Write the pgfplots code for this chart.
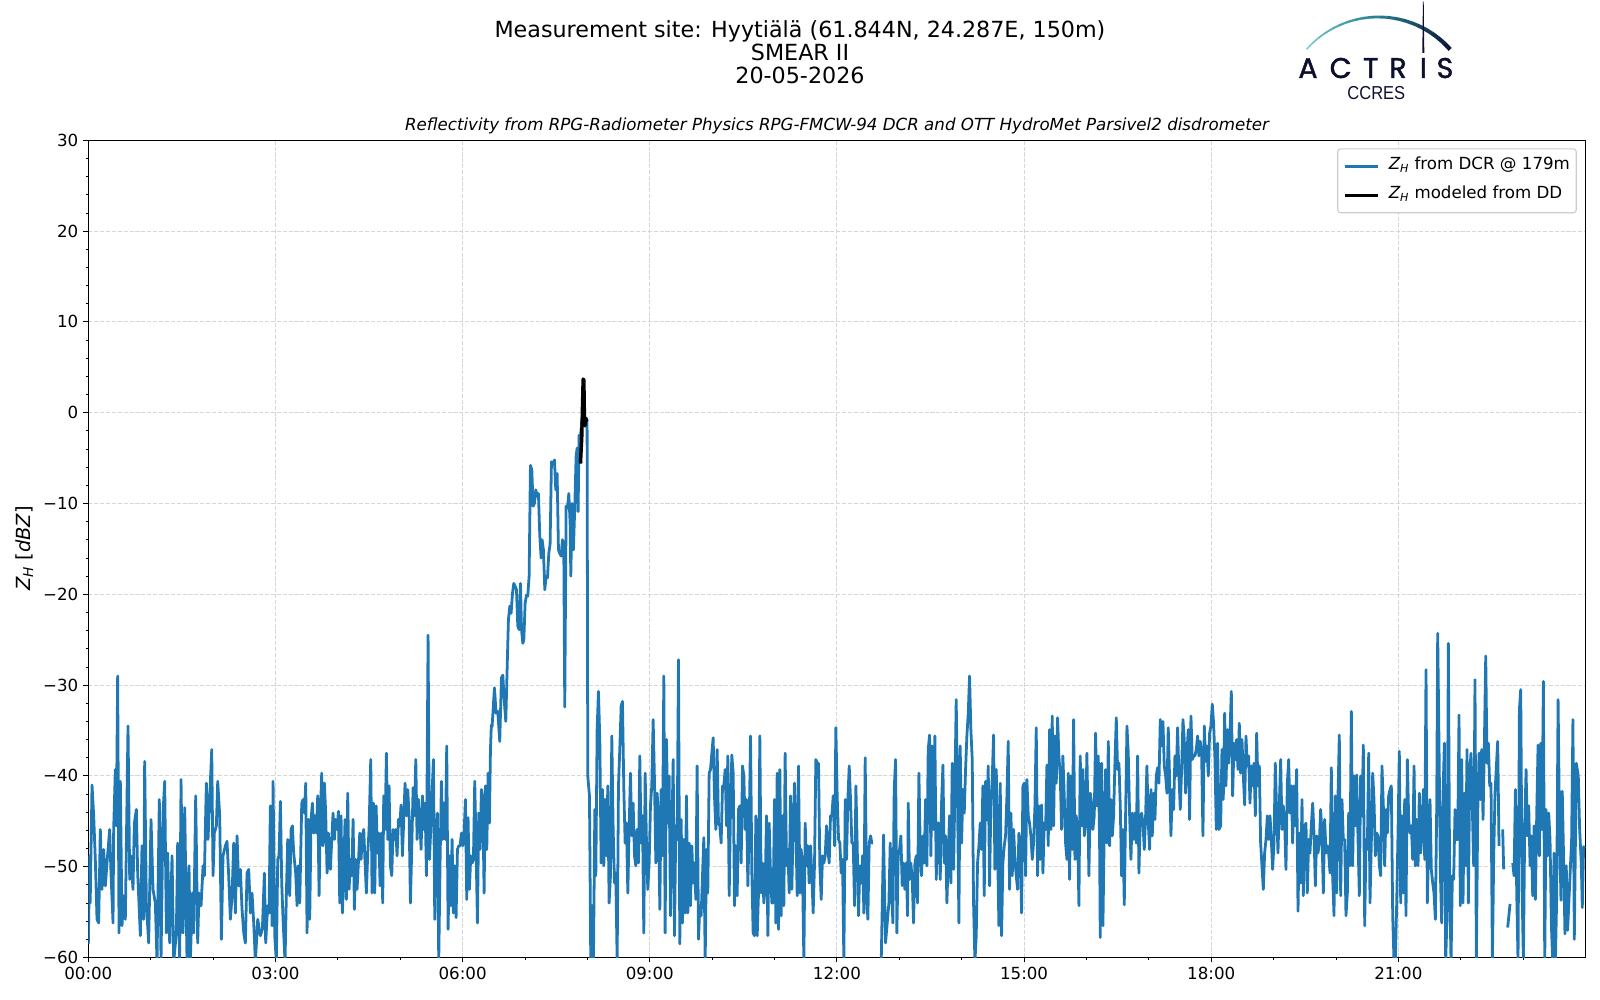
\documentclass[border=0pt]{standalone}
\usepackage{fontspec}
\setmainfont{DejaVu Sans}[ItalicFont={DejaVu Sans Oblique}]
\newfontfamily\poppins{Poppins}[FakeBold=1.5]
\newfontfamily\libsans{Liberation Sans}
\usepackage{pgfplots}
\pgfplotsset{compat=1.18}
\definecolor{zblue}{HTML}{1F77B4}
\definecolor{gridc}{HTML}{D6D6D6}
\definecolor{legc}{HTML}{CCCCCC}
\definecolor{logoA}{HTML}{74C8C5}
\definecolor{logoB}{HTML}{237A8C}
\definecolor{logoC}{HTML}{0C1838}
\definecolor{navy}{HTML}{0D0F30}
\begin{document}
\begin{tikzpicture}
\path[use as bounding box] (0,0) rectangle (1152pt,720pt);
\begin{axis}[
  at={(63.6pt,30.6pt)}, anchor=south west, scale only axis,
  width=1078pt, height=588.4pt,
  xmin=0, xmax=24, ymin=-60, ymax=30,
  xtick={0,3,...,21},
  xticklabels={00:00,03:00,06:00,09:00,12:00,15:00,18:00,21:00},
  minor xtick={1,2,4,5,7,8,10,11,13,14,16,17,19,20,22,23},
  ytick={-60,-50,...,30},
  yticklabels={−60,−50,−40,−30,−20,−10,0,10,20,30},
  minor y tick num=4,
  tick pos=left, tick align=outside,
  major tick length=3.5pt, minor tick length=2pt,
  every tick/.style={black, line width=0.8pt},
  every minor tick/.style={black, line width=0.6pt},
  axis line style={line width=0.8pt},
  grid=major,
  major grid style={gridc, line width=0.8pt, dash pattern=on 2.96pt off 1.28pt},
  ticklabel style={font=\fontsize{12}{14}\selectfont},
  xticklabel style={inner sep=0pt, anchor=north, yshift=-3.5pt},
  yticklabel style={inner sep=0pt, anchor=east, xshift=-3.5pt},
  unbounded coords=jump,
  legend style={at={(1,1)}, anchor=north east, xshift=-6.3pt, yshift=-5.8pt,
    draw=legc, line width=0.8pt, rounded corners=2pt, fill=white,
    font=\fontsize{12}{14}\selectfont, inner xsep=4pt, inner ysep=7pt,
    row sep=10pt, column sep=6pt,
    nodes={inner sep=0.5pt, text depth=0.25em, text height=0.75em}},
  legend cell align=left,
  legend image code/.code={\draw[#1, line width=2.2pt] (0pt,0pt) -- (24pt,0pt);},
]
\addplot[zblue, line width=2pt, line join=round] coordinates {
(0.000,-58.5) (0.021,-48.8) (0.030,-54.0) (0.059,-41.0) (0.086,-44.4) (0.112,-49.2) (0.139,-55.8) (0.166,-56.2) (0.192,-45.9) (0.219,-52.5) (0.246,-48.1) (0.273,-52.1) (0.299,-49.6) (0.342,-45.9) (0.363,-50.7) (0.396,-56.2) (0.406,-45.9) (0.433,-39.3) (0.449,-45.5) (0.470,-29.0) (0.492,-57.3) (0.513,-40.6) (0.540,-56.5) (0.567,-53.2) (0.593,-55.8) (0.636,-34.5) (0.663,-51.4) (0.684,-48.8) (0.716,-52.5) (0.738,-45.2) (0.770,-43.7) (0.791,-50.7) (0.834,-57.6) (0.860,-47.7) (0.887,-55.8) (0.903,-38.4) (0.930,-54.0) (0.967,-58.4) (1.005,-44.8) (1.037,-52.5) (1.074,-54.0) (1.101,-60.5) (1.138,-42.6) (1.165,-60.5) (1.197,-44.1) (1.224,-40.6) (1.251,-57.3) (1.272,-48.5) (1.304,-58.4) (1.342,-48.8) (1.368,-60.5) (1.411,-57.3) (1.432,-47.4) (1.464,-60.5) (1.486,-40.4) (1.518,-57.3) (1.545,-43.5) (1.582,-60.5) (1.614,-49.9) (1.635,-60.5) (1.668,-52.9) (1.689,-57.3) (1.721,-42.2) (1.753,-58.4) (1.774,-52.9) (1.807,-54.3) (1.839,-49.9) (1.860,-51.0) (1.892,-40.8) (1.919,-47.0) (1.945,-42.6) (1.978,-37.1) (1.999,-51.0) (2.020,-46.3) (2.052,-45.5) (2.074,-40.6) (2.106,-44.4) (2.133,-58.0) (2.159,-48.8) (2.197,-47.7) (2.223,-47.2) (2.250,-51.0) (2.277,-55.8) (2.304,-53.2) (2.330,-47.4) (2.357,-55.1) (2.384,-46.6) (2.410,-52.1) (2.437,-50.3) (2.464,-54.7) (2.491,-57.3) (2.517,-58.4) (2.544,-50.7) (2.571,-50.3) (2.598,-55.1) (2.624,-52.9) (2.651,-56.2) (2.678,-60.5) (2.715,-55.8) (2.758,-57.6) (2.790,-56.9) (2.822,-50.7) (2.843,-58.4) (2.875,-54.3) (2.897,-55.1) (2.918,-43.3) (2.945,-56.5) (2.961,-40.6) (2.988,-57.6) (3.014,-60.5) (3.036,-49.2) (3.057,-48.8) (3.079,-42.8) (3.100,-51.8) (3.121,-55.8) (3.153,-60.5) (3.175,-52.9) (3.196,-47.0) (3.228,-53.2) (3.250,-45.9) (3.271,-45.5) (3.292,-48.5) (3.324,-50.7) (3.346,-54.3) (3.367,-49.9) (3.389,-54.0) (3.421,-43.0) (3.442,-42.6) (3.463,-44.1) (3.485,-40.8) (3.506,-57.3) (3.527,-44.8) (3.549,-55.8) (3.570,-44.8) (3.592,-43.0) (3.613,-46.3) (3.634,-44.4) (3.656,-46.3) (3.677,-42.2) (3.699,-53.2) (3.720,-44.1) (3.741,-39.7) (3.763,-47.7) (3.784,-40.8) (3.805,-44.1) (3.827,-50.7) (3.848,-46.3)
(3.880,-50.3) (3.907,-46.3) (3.923,-44.1) (3.944,-47.0) (3.961,-44.8) (3.987,-45.9) (4.009,-43.9) (4.030,-54.0) (4.051,-44.4) (4.073,-55.1) (4.094,-50.7) (4.115,-44.8) (4.137,-53.6) (4.158,-41.9) (4.180,-52.5) (4.201,-49.2) (4.222,-51.0) (4.244,-44.8) (4.265,-54.7) (4.286,-49.2) (4.308,-52.5) (4.329,-49.6) (4.351,-46.3) (4.372,-49.2) (4.393,-46.6) (4.415,-45.9) (4.436,-49.6) (4.457,-52.9) (4.479,-48.5) (4.500,-45.9) (4.527,-38.2) (4.548,-52.9) (4.570,-43.0) (4.591,-52.9) (4.613,-43.3) (4.634,-48.5) (4.655,-46.3) (4.677,-52.1) (4.698,-46.3) (4.719,-54.0) (4.735,-42.2) (4.757,-45.9) (4.778,-37.5) (4.800,-47.0) (4.821,-41.1) (4.842,-49.9) (4.864,-51.0) (4.885,-45.9) (4.906,-47.0) (4.928,-45.9) (4.949,-48.8) (4.971,-44.8) (4.992,-45.5) (5.013,-43.2) (5.035,-48.8) (5.056,-44.8) (5.077,-40.8) (5.099,-44.4) (5.120,-41.5) (5.142,-44.4) (5.163,-54.0) (5.184,-48.1) (5.206,-41.3) (5.227,-44.4) (5.249,-38.2) (5.270,-47.0) (5.291,-42.6) (5.313,-44.8) (5.334,-48.1) (5.356,-42.2) (5.377,-45.9) (5.398,-43.0) (5.420,-51.0) (5.446,-24.5) (5.468,-49.2) (5.489,-45.9) (5.510,-41.9) (5.532,-38.2) (5.553,-55.8) (5.574,-47.0) (5.596,-44.1) (5.617,-60.5) (5.639,-49.2) (5.660,-40.6) (5.681,-47.0) (5.703,-43.0) (5.724,-47.0) (5.745,-36.7) (5.767,-56.9) (5.788,-48.8) (5.810,-54.3) (5.831,-47.0) (5.852,-55.1) (5.874,-49.9) (5.895,-55.6) (5.917,-48.1) (5.938,-47.7) (5.959,-47.7) (5.981,-46.3) (6.002,-47.7) (6.023,-46.3) (6.045,-42.6) (6.066,-53.6) (6.087,-44.6) (6.109,-52.5) (6.130,-48.8) (6.152,-49.6) (6.173,-49.2) (6.194,-40.6) (6.216,-48.1) (6.237,-56.2) (6.258,-44.1) (6.280,-48.1) (6.301,-41.5) (6.323,-42.6) (6.344,-52.9) (6.365,-41.1) (6.387,-48.1) (6.408,-39.7) (6.429,-45.2)
(6.446,-37.1) (6.460,-34.4) (6.472,-34.6) (6.510,-30.3) (6.537,-33.1) (6.563,-32.9) (6.595,-36.2) (6.622,-29.2) (6.644,-28.9) (6.670,-32.0) (6.692,-34.0) (6.713,-28.3) (6.734,-22.8) (6.756,-21.3) (6.777,-22.1) (6.799,-19.9) (6.820,-18.8) (6.841,-19.1) (6.863,-19.5) (6.884,-23.5) (6.905,-23.9) (6.927,-18.8) (6.944,-23.9) (6.965,-25.4) (6.981,-25.0) (7.002,-21.0) (7.023,-20.1) (7.044,-20.2) (7.066,-18.0) (7.087,-5.8) (7.109,-6.3) (7.130,-10.3) (7.151,-10.0) (7.173,-8.5) (7.194,-9.2) (7.215,-8.9) (7.237,-13.6) (7.258,-16.0) (7.274,-14.0) (7.295,-15.1) (7.317,-19.5) (7.338,-18.0) (7.360,-18.2) (7.381,-15.5) (7.402,-14.5) (7.424,-5.4) (7.451,-5.7) (7.472,-5.2) (7.493,-8.5) (7.515,-6.7) (7.536,-15.1) (7.557,-15.5) (7.579,-15.8) (7.600,-14.0) (7.621,-14.4) (7.637,-32.4) (7.659,-10.3) (7.680,-10.5) (7.702,-8.9) (7.723,-12.2) (7.734,-18.0) (7.755,-10.0) (7.776,-15.1) (7.798,-10.3) (7.819,-4.8) (7.835,-3.9) (7.851,-10.9) (7.867,-2.5) (7.889,-2.6) (7.910,-1.0) (7.932,-0.8) (7.953,-1.5) (7.975,-0.6) (7.995,-0.8)
(8.006,-40.0) (8.033,-42.2) (8.054,-60.5) (8.076,-54.3) (8.097,-60.5) (8.119,-43.7) (8.135,-51.0) (8.156,-34.9) (8.177,-30.7) (8.199,-36.0) (8.220,-49.6) (8.242,-41.5) (8.263,-49.9) (8.284,-42.6) (8.306,-48.8) (8.327,-41.1) (8.348,-54.0) (8.370,-51.0) (8.391,-35.6) (8.413,-45.9) (8.434,-51.8) (8.455,-50.7) (8.477,-60.5) (8.498,-41.1) (8.519,-37.1) (8.541,-32.3) (8.562,-31.8) (8.584,-41.5) (8.605,-47.4) (8.626,-45.2) (8.648,-52.9) (8.669,-45.9) (8.690,-39.7) (8.712,-46.6) (8.733,-43.0) (8.755,-48.8) (8.776,-49.9) (8.797,-45.9) (8.819,-49.6) (8.840,-37.8) (8.861,-47.4) (8.883,-44.4) (8.904,-57.3) (8.926,-39.7) (8.947,-47.4) (8.968,-52.5) (8.990,-49.6) (9.011,-43.3) (9.032,-41.1) (9.054,-33.8) (9.075,-40.4) (9.097,-49.6) (9.118,-41.9) (9.139,-44.4) (9.161,-54.7) (9.182,-41.5) (9.203,-48.8) (9.225,-29.0) (9.246,-57.3) (9.268,-36.0) (9.289,-45.2) (9.310,-40.0) (9.332,-55.4) (9.353,-46.6) (9.375,-38.2) (9.396,-57.6) (9.417,-45.5) (9.439,-47.0) (9.460,-27.2) (9.481,-58.5) (9.503,-44.8) (9.524,-56.2) (9.546,-47.0) (9.567,-55.1) (9.588,-42.2) (9.610,-55.1) (9.631,-47.4) (9.652,-54.3) (9.674,-47.7) (9.695,-51.8) (9.717,-49.6) (9.738,-53.6) (9.759,-38.9) (9.781,-58.0) (9.802,-54.3) (9.823,-55.4) (9.845,-51.0) (9.866,-46.8) (9.888,-60.5) (9.909,-48.1) (9.930,-52.9) (9.952,-39.7) (9.973,-39.3) (9.995,-37.5) (10.016,-35.8) (10.037,-42.2) (10.059,-45.9) (10.080,-37.1) (10.101,-45.2) (10.123,-45.5) (10.144,-47.4) (10.166,-41.1) (10.187,-41.1) (10.208,-39.3) (10.230,-45.5) (10.251,-37.8) (10.273,-53.2) (10.294,-43.7) (10.315,-37.7) (10.337,-39.7) (10.358,-54.3) (10.379,-47.7) (10.401,-53.2) (10.422,-43.7) (10.444,-43.3) (10.465,-49.6) (10.486,-38.9) (10.508,-40.0) (10.529,-45.9) (10.550,-42.6) (10.572,-52.1) (10.593,-45.9) (10.615,-35.6) (10.636,-50.7) (10.657,-57.3) (10.679,-57.6) (10.700,-44.4) (10.722,-57.6) (10.743,-52.9) (10.764,-35.6) (10.786,-52.9) (10.807,-49.6) (10.828,-54.0) (10.850,-52.1) (10.871,-44.4) (10.893,-57.6) (10.914,-45.2) (10.935,-50.7) (10.957,-54.0) (10.978,-54.0) (10.999,-42.6) (11.021,-56.2) (11.042,-39.7) (11.064,-56.9) (11.085,-39.3) (11.106,-55.4) (11.128,-44.4) (11.149,-54.3) (11.170,-37.5) (11.192,-49.9) (11.213,-48.1) (11.235,-52.9) (11.256,-42.2) (11.277,-52.5) (11.299,-45.5) (11.320,-40.8) (11.342,-45.9) (11.363,-53.2) (11.384,-38.9) (11.406,-52.9) (11.427,-48.1) (11.448,-50.3) (11.470,-60.5) (11.491,-45.2) (11.513,-49.9) (11.534,-47.7) (11.555,-51.8) (11.577,-47.7) (11.598,-51.0) (11.619,-55.1) (11.641,-49.6) (11.662,-38.2) (11.684,-38.6) (11.705,-38.6) (11.726,-49.9) (11.748,-53.6) (11.769,-48.8) (11.790,-49.6) (11.812,-48.8) (11.833,-45.5) (11.855,-48.1) (11.876,-49.6) (11.897,-44.4) (11.919,-44.4) (11.940,-42.2) (11.962,-47.7) (11.983,-34.7) (12.004,-42.2) (12.026,-47.0) (12.047,-47.4) (12.068,-50.7) (12.090,-49.2) (12.111,-60.5) (12.133,-42.6) (12.154,-49.2) (12.175,-42.6) (12.197,-38.9) (12.218,-42.6) (12.239,-47.4) (12.261,-47.4) (12.282,-54.3) (12.304,-41.1) (12.325,-47.7) (12.346,-55.4) (12.368,-49.9) (12.389,-51.8) (12.411,-48.8) (12.432,-55.1) (12.453,-38.0) (12.475,-52.9) (12.496,-55.8) (12.517,-47.4) (12.539,-46.6) (12.560,-47.4) (12.582,-47.4) (12.650,nan)
(12.710,-60.5) (12.747,-46.5) (12.779,-58.4) (12.833,-54.0) (12.854,-47.4) (12.875,-52.5) (12.897,-56.2) (12.918,-41.5) (12.940,-38.2) (12.961,-57.3) (12.982,-48.8) (13.004,-48.1) (13.025,-46.6) (13.046,-52.1) (13.068,-49.6) (13.089,-52.5) (13.111,-49.6) (13.132,-55.4) (13.143,-43.0) (13.164,-51.4) (13.185,-49.6) (13.207,-51.4) (13.228,-56.2) (13.250,-49.6) (13.271,-48.8) (13.292,-54.0) (13.314,-39.7) (13.335,-47.7) (13.356,-51.0) (13.378,-46.6) (13.399,-49.6) (13.421,-42.6) (13.442,-49.9) (13.463,-37.1) (13.485,-35.5) (13.506,-48.8) (13.527,-36.7) (13.549,-45.9) (13.570,-35.6) (13.592,-51.4) (13.613,-45.2) (13.634,-45.2) (13.656,-51.4) (13.677,-43.0) (13.699,-38.8) (13.720,-49.6) (13.741,-46.6) (13.763,-54.0) (13.784,-48.8) (13.805,-44.4) (13.827,-51.8) (13.848,-38.6) (13.870,-50.3) (13.891,-41.5) (13.912,-31.6) (13.934,-43.0) (13.955,-56.2) (13.976,-36.7) (13.998,-47.4) (14.019,-41.5) (14.041,-44.1) (14.062,-39.3) (14.083,-35.6) (14.105,-33.1) (14.126,-29.0) (14.147,-34.9) (14.169,-38.2) (14.190,-54.0) (14.212,-60.5) (14.233,-57.6) (14.254,-49.6) (14.276,-47.7) (14.297,-45.2) (14.318,-48.1) (14.340,-41.1) (14.361,-53.2) (14.383,-40.6) (14.404,-44.8) (14.425,-38.9) (14.447,-52.1) (14.468,-43.0) (14.489,-40.4) (14.511,-35.5) (14.532,-50.3) (14.554,-39.3) (14.575,-47.7) (14.596,-56.5) (14.618,-40.8) (14.639,-57.6) (14.660,-49.6) (14.682,-47.7) (14.703,-46.6) (14.725,-42.2) (14.746,-36.2) (14.767,-52.5) (14.789,-44.1) (14.810,-51.0) (14.832,-45.9) (14.853,-49.2) (14.874,-51.0) (14.896,-52.5) (14.917,-46.3) (14.938,-47.4) (14.960,-55.1) (14.981,-41.1) (15.003,-40.8) (15.024,-51.0) (15.045,-40.4) (15.067,-44.4) (15.088,-45.2) (15.109,-46.6) (15.131,-49.2) (15.152,-47.4) (15.174,-43.3) (15.195,-34.7) (15.216,-51.0) (15.238,-43.3) (15.259,-49.2) (15.280,-43.2) (15.302,-50.7) (15.323,-45.2) (15.345,-45.9) (15.366,-38.8) (15.387,-47.7) (15.409,-34.9) (15.430,-45.9) (15.451,-33.4) (15.473,-45.5) (15.494,-35.6) (15.516,-40.8) (15.537,-33.6) (15.558,-37.8) (15.580,-40.0) (15.601,-45.9) (15.622,-37.8) (15.644,-42.2) (15.665,-47.4) (15.687,-49.2) (15.708,-39.7) (15.729,-51.4) (15.751,-40.0) (15.772,-48.1) (15.794,-33.8) (15.815,-49.2) (15.836,-44.4) (15.858,-46.3) (15.879,-54.3) (15.900,-37.8) (15.922,-45.5) (15.943,-39.3) (15.965,-46.6) (15.986,-45.2) (16.007,-37.5) (16.029,-46.6) (16.039,-51.0) (16.061,-41.9) (16.082,-43.0) (16.103,-45.9) (16.125,-44.4) (16.146,-35.3) (16.168,-43.3) (16.189,-37.8) (16.210,-47.0) (16.221,-57.8) (16.243,-38.6) (16.264,-56.5) (16.285,-45.9) (16.307,-39.3) (16.328,-47.4) (16.350,-36.2) (16.371,-47.7) (16.392,-42.6) (16.414,-46.6) (16.435,-44.4) (16.456,-38.6) (16.478,-33.6) (16.499,-39.3) (16.521,-38.6) (16.542,-43.3) (16.563,-51.0) (16.585,-45.9) (16.606,-54.2) (16.627,-44.4) (16.649,-34.5) (16.670,-37.5) (16.692,-44.4) (16.713,-49.2) (16.734,-44.1) (16.756,-47.0) (16.777,-44.1) (16.798,-47.4) (16.820,-37.8) (16.841,-50.7) (16.863,-44.8) (16.884,-44.1) (16.905,-45.2) (16.927,-48.1) (16.948,-44.4) (16.969,-38.9) (16.991,-45.2) (17.012,-48.1) (17.034,-41.5) (17.055,-46.6) (17.076,-41.9) (17.098,-44.8) (17.119,-40.0) (17.140,-39.1) (17.162,-40.8) (17.183,-33.8) (17.205,-36.7) (17.226,-34.0) (17.247,-38.9) (17.269,-40.0) (17.290,-41.9) (17.311,-34.7) (17.333,-40.4) (17.354,-46.6) (17.376,-41.5) (17.397,-43.7) (17.418,-37.8) (17.440,-40.0) (17.461,-34.7) (17.482,-40.0) (17.504,-43.7) (17.525,-39.3) (17.547,-33.8) (17.568,-36.0) (17.589,-41.9) (17.611,-37.5) (17.632,-34.9) (17.653,-44.8) (17.675,-33.4) (17.696,-38.2) (17.718,-37.8) (17.739,-37.8) (17.760,-37.1) (17.782,-35.6) (17.803,-37.8) (17.824,-36.2) (17.846,-37.5) (17.867,-46.6) (17.889,-34.5) (17.910,-38.4) (17.931,-36.7) (17.953,-40.0) (17.974,-35.3) (17.995,-34.5) (18.017,-32.1) (18.038,-34.2) (18.060,-38.2) (18.081,-45.9) (18.102,-36.4) (18.124,-45.9)
(18.151,-45.5) (18.172,-37.1) (18.193,-42.6) (18.215,-33.1) (18.236,-41.1) (18.258,-34.9) (18.279,-38.6) (18.300,-35.3) (18.322,-30.7) (18.343,-42.2) (18.365,-36.4) (18.386,-38.2) (18.407,-36.0) (18.429,-39.3) (18.450,-34.2) (18.471,-39.7) (18.493,-36.0) (18.514,-40.0) (18.536,-43.2) (18.557,-35.6) (18.578,-38.9) (18.600,-37.8) (18.621,-43.0) (18.642,-38.9) (18.664,-41.1) (18.685,-38.6) (18.707,-44.4) (18.728,-35.3) (18.749,-41.1) (18.771,-38.9) (18.792,-47.4) (18.813,-49.9) (18.835,-52.5) (18.856,-48.5) (18.878,-47.0) (18.899,-44.4) (18.920,-47.0) (18.942,-44.4) (18.963,-47.0) (18.984,-50.3) (19.006,-47.4) (19.027,-38.6) (19.049,-44.1) (19.070,-48.5) (19.091,-43.3) (19.113,-38.2) (19.134,-45.9) (19.155,-43.3) (19.177,-45.2) (19.198,-50.3) (19.220,-40.8) (19.241,-38.2) (19.262,-44.1) (19.284,-41.1) (19.305,-47.4) (19.326,-41.1) (19.348,-45.5) (19.369,-39.3) (19.391,-54.9) (19.412,-46.3) (19.433,-51.8) (19.455,-42.6) (19.476,-53.2) (19.498,-45.5) (19.519,-45.2) (19.540,-52.9) (19.562,-47.0) (19.583,-48.5) (19.604,-45.5) (19.626,-43.0) (19.647,-46.3) (19.669,-52.1) (19.690,-46.6) (19.711,-48.5) (19.733,-47.4) (19.754,-43.7) (19.775,-46.3) (19.797,-52.9) (19.818,-44.8) (19.840,-48.5) (19.861,-47.7) (19.882,-48.5) (19.904,-50.7) (19.925,-39.1) (19.946,-51.0) (19.968,-55.4) (19.989,-42.2) (20.011,-52.9) (20.032,-42.2) (20.053,-35.5) (20.075,-53.2) (20.096,-42.6) (20.117,-47.0) (20.139,-47.0) (20.160,-55.4) (20.182,-52.9) (20.203,-44.1) (20.224,-49.9) (20.246,-32.9) (20.267,-49.9) (20.289,-40.0) (20.310,-45.5) (20.331,-39.9) (20.353,-47.0) (20.374,-53.2) (20.395,-40.0) (20.417,-44.4) (20.438,-36.6) (20.460,-56.5) (20.481,-47.0) (20.502,-48.1) (20.524,-37.5) (20.545,-54.0) (20.566,-47.4) (20.588,-39.7) (20.609,-42.6) (20.631,-48.8) (20.652,-46.3) (20.673,-46.6) (20.695,-49.9) (20.716,-51.0) (20.737,-38.9) (20.759,-43.3) (20.780,-49.9) (20.802,-43.7) (20.823,-46.3) (20.844,-42.2) (20.866,-41.5) (20.887,-41.1) (20.909,-55.4) (20.930,-60.5) (20.951,-60.5) (20.973,-54.0) (20.994,-46.3) (21.015,-37.3) (21.037,-54.0) (21.058,-44.4) (21.080,-52.9) (21.101,-42.6) (21.122,-55.4) (21.144,-38.2) (21.165,-44.8) (21.186,-46.3) (21.208,-45.5) (21.229,-49.2) (21.251,-38.9) (21.272,-49.9) (21.293,-44.8) (21.315,-49.9) (21.336,-41.9) (21.357,-48.5) (21.379,-46.3) (21.400,-41.5) (21.422,-49.2) (21.443,-28.3) (21.464,-54.0) (21.486,-47.4) (21.507,-42.6) (21.528,-50.3) (21.550,-51.8) (21.571,-52.9) (21.593,-55.8) (21.614,-43.7) (21.630,-24.3) (21.651,-36.4) (21.673,-50.7) (21.694,-56.2) (21.715,-42.2) (21.737,-36.4) (21.758,-60.5) (21.780,-55.4) (21.801,-25.4) (21.822,-52.1) (21.844,-60.5) (21.865,-51.0) (21.886,-51.4) (21.908,-43.7) (21.929,-47.0) (21.951,-47.0) (21.972,-33.3) (21.993,-54.3) (22.015,-38.2) (22.036,-54.0) (22.057,-41.9) (22.079,-49.9) (22.100,-37.1) (22.122,-54.0) (22.143,-39.7) (22.164,-37.5) (22.186,-43.7) (22.207,-49.9) (22.228,-29.4) (22.250,-60.5) (22.271,-44.4) (22.293,-37.5) (22.314,-42.6) (22.335,-37.1) (22.357,-44.8) (22.378,-36.7) (22.400,-26.8) (22.421,-38.6) (22.442,-36.4) (22.464,-41.1) (22.485,-40.8) (22.507,-60.5) (22.528,-48.8) (22.549,-41.9) (22.571,-38.9) (22.592,-36.2) (22.613,-47.7) (22.640,nan)
(22.672,-45.9) (22.688,-50.3) (22.720,nan) (22.752,-56.7) (22.790,-54.1) (22.810,nan)
(22.833,-49.6) (22.854,-51.0) (22.876,-41.5) (22.897,-52.9) (22.918,-60.5) (22.940,-32.7) (22.961,-30.5) (22.982,-52.1) (23.004,-60.5) (23.025,-45.5) (23.047,-39.3) (23.068,-46.6) (23.089,-43.3) (23.111,-49.9) (23.132,-46.6) (23.153,-53.2) (23.175,-45.5) (23.196,-53.6) (23.218,-44.1) (23.239,-36.6) (23.260,-48.8) (23.282,-36.4) (23.303,-45.9) (23.324,-29.6) (23.346,-60.5) (23.367,-43.7) (23.388,-48.8) (23.410,-44.1) (23.431,-47.0) (23.453,-56.5) (23.474,-60.5) (23.495,-48.5) (23.517,-60.5) (23.538,-53.2) (23.560,-31.6) (23.581,-44.4) (23.606,-53.7) (23.627,-41.7) (23.649,-49.3) (23.670,-57.4) (23.691,-49.9) (23.713,-57.0) (23.745,-52.0) (23.777,-47.0) (23.798,-33.8) (23.820,-58.0) (23.852,-38.6) (23.884,-40.0) (23.905,-45.8) (23.932,-49.7) (23.948,-54.5) (23.969,-47.8) (23.990,-48.0)
};
\addlegendentry{{\itshape Z}\textsubscript{\itshape H} from DCR @ 179m}
\addplot[black, line width=2.5pt, line join=round] coordinates {
(7.889,-5.6) (7.910,-2.6) (7.932,3.7) (7.943,3.6) (7.953,-0.9) (7.964,-1.4) (7.975,-0.6) (7.986,-1.0)
};
\addlegendentry{{\itshape Z}\textsubscript{\itshape H} modeled from DD}
\end{axis}
% y label
\node[rotate=90, font=\fontsize{14}{16}\selectfont] at (17.5pt,325pt) {{\itshape Z}\textsubscript{\itshape H} [{\itshape dBZ}]};
% titles
\node[anchor=base, font=\fontsize{16}{19}\selectfont] at (576pt,693.0pt) {Measurement site: Hyytiälä (61.844N, 24.287E, 150m)};
\node[anchor=base, font=\fontsize{16}{19}\selectfont] at (576pt,676.4pt) {SMEAR II};
\node[anchor=base, font=\fontsize{16}{19}\selectfont] at (576pt,659.9pt) {20-05-2026};
\node[anchor=base, font=\fontsize{12}{14}\selectfont\itshape] at (602.6pt,625.9pt) {Reflectivity from RPG-Radiometer Physics RPG-FMCW-94 DCR and OTT HydroMet Parsivel2 disdrometer};
% logo
\begin{scope}[x=0.72pt, y=-0.72pt, yshift=720pt]
  \foreach \i in {0,...,19} {
    \pgfmathsetmacro{\a}{-138.5+\i*4.85}
    \pgfmathsetmacro{\b}{\a+5.0}
    \pgfmathsetmacro{\lw}{1.0+0.11*\i}
    \ifnum\i<10
      \pgfmathsetmacro{\p}{100-\i*10}
      \draw[color=logoA!\p!logoB, line width=\lw pt, shift={(1378.3,112.7)}] (\a:95.7) arc[start angle=\a, end angle=\b, radius=95.7];
    \else
      \pgfmathsetmacro{\p}{100-(\i-10)*11}
      \draw[color=logoB!\p!logoC, line width=\lw pt, shift={(1378.3,112.7)}] (\a:95.7) arc[start angle=\a, end angle=\b, radius=95.7];
    \fi
  }
  \fill[navy] (1422.9,1.7) -- (1423.7,1.7) -- (1424.3,53) -- (1422.3,53) -- cycle;
  \foreach \xx/\ll in {1308/A,1340.7/C,1370.7/T,1398/R,1423.3/I,1445/S} {
    \node[anchor=base, inner sep=0pt, text=navy, font=\poppins\fontsize{20.5}{22}\selectfont] at (\xx,78) {\ll};
  }
  \node[anchor=base, inner sep=0pt, text=navy, font=\libsans\fontsize{13.5}{15}\selectfont, xscale=0.88] at (1376.3,99.5) {CCRES};
\end{scope}
\end{tikzpicture}
\end{document}
